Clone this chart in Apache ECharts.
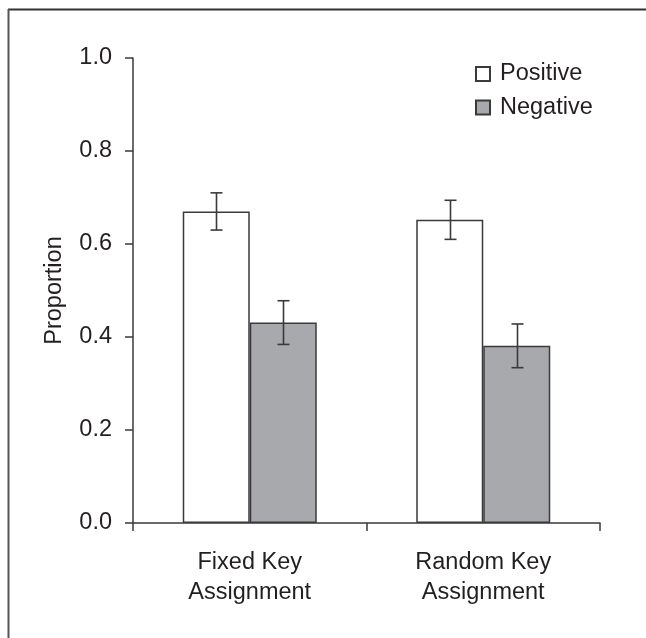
<!DOCTYPE html>
<html>
<head>
<meta charset="utf-8">
<script src="https://cdn.jsdelivr.net/npm/echarts@6/dist/echarts.min.js"></script>
<style>
  html, body { margin: 0; padding: 0; background: #fff; }
  #chart { width: 646px; height: 638px; }
</style>
</head>
<body>
<div id="chart"></div>
<script>
// Proportion by key-assignment condition, with standard-error bars
const categories = ['Fixed Key\nAssignment', 'Random Key\nAssignment'];
const positiveValues = [0.67, 0.652];
const negativeValues = [0.431, 0.381];
const positiveErrors = [0.04, 0.042];
const negativeErrors = [0.047, 0.047];
const yTicks = [0, 0.2, 0.4, 0.6, 0.8, 1.0];

const FONT = '"Liberation Sans", Arial, sans-serif';
const FS = 23.5;
const INK = '#231f20';
const LINE = '#3a3a3a';
const BAR_W = 67;

const chart = echarts.init(document.getElementById('chart'), null, { renderer: 'canvas' });

function errorSeries(name, values, errors, seriesIndex) {
  return {
    name: name + ' error',
    type: 'custom',
    z: 10,
    silent: true,
    data: values.map((v, i) => [i, v - errors[i], v + errors[i]]),
    renderItem: function (params, api) {
      const cat = api.value(0);
      const lo = api.coord([cat, api.value(1)]);
      const hi = api.coord([cat, api.value(2)]);
      const offset = seriesIndex === 0 ? -BAR_W / 2 : BAR_W / 2;
      const x = Math.round(lo[0] + offset) + 0.5;
      const cap = 6;
      const style = { stroke: LINE, lineWidth: 1.6 };
      return {
        type: 'group',
        children: [
          { type: 'line', shape: { x1: x, y1: lo[1], x2: x, y2: hi[1] }, style: style },
          { type: 'line', shape: { x1: x - cap, y1: hi[1], x2: x + cap, y2: hi[1] }, style: style },
          { type: 'line', shape: { x1: x - cap, y1: lo[1], x2: x + cap, y2: lo[1] }, style: style }
        ]
      };
    }
  };
}

const option = {
  backgroundColor: '#ffffff',
  animation: false,
  textStyle: { fontFamily: FONT },
  grid: { left: 133, right: 46, top: 58, bottom: 115, containLabel: false },
  legend: {
    orient: 'vertical',
    left: 475,
    top: 62,
    padding: 0,
    itemWidth: 14,
    itemHeight: 14,
    itemGap: 9.5,
    icon: 'rect',
    data: ['Positive', 'Negative'],
    textStyle: { fontFamily: FONT, fontSize: FS, lineHeight: 24, color: INK, padding: [0, 0, 0, 5] }
  },
  xAxis: {
    type: 'category',
    data: categories,
    axisLine: { show: true, lineStyle: { color: LINE, width: 1.5 } },
    axisTick: { show: true, length: 8, alignWithLabel: false, lineStyle: { color: LINE, width: 1.5 } },
    axisLabel: {
      color: INK, fontSize: FS, fontFamily: FONT, margin: 24, lineHeight: 30.5
    },
    splitLine: { show: false }
  },
  yAxis: {
    type: 'value',
    min: 0,
    max: 1,
    interval: 0.2,
    name: 'Proportion',
    nameLocation: 'middle',
    nameGap: 66,
    nameRotate: 90,
    nameTextStyle: { color: INK, fontSize: FS, fontFamily: FONT },
    axisLine: { show: true, lineStyle: { color: LINE, width: 1.5 } },
    axisTick: { show: true, length: 8, lineStyle: { color: LINE, width: 1.5 } },
    axisLabel: {
      color: INK, fontSize: FS, fontFamily: FONT, margin: 21,
      formatter: v => {
        const t = yTicks.find(k => Math.abs(k - v) < 1e-9);
        return (t !== undefined ? t : v).toFixed(1);
      }
    },
    splitLine: { show: false }
  },
  series: [
    {
      name: 'Positive',
      type: 'bar',
      data: positiveValues,
      barWidth: BAR_W,
      barGap: '0%',
      itemStyle: { color: '#ffffff', borderColor: LINE, borderWidth: 1.5 }
    },
    {
      name: 'Negative',
      type: 'bar',
      data: negativeValues,
      barWidth: BAR_W,
      barGap: '0%',
      itemStyle: { color: '#a7a9ac', borderColor: LINE, borderWidth: 1.5 }
    },
    errorSeries('Positive', positiveValues, positiveErrors, 0),
    errorSeries('Negative', negativeValues, negativeErrors, 1)
  ],
  graphic: [
    // figure frame: top and left rules
    { type: 'line', shape: { x1: 8, y1: 9.5, x2: 646, y2: 9.5 }, style: { stroke: '#333', lineWidth: 2 } },
    { type: 'line', shape: { x1: 8.5, y1: 9, x2: 8.5, y2: 638 }, style: { stroke: '#555', lineWidth: 2 } }
  ]
};

chart.setOption(option);
</script>
</body>
</html>
